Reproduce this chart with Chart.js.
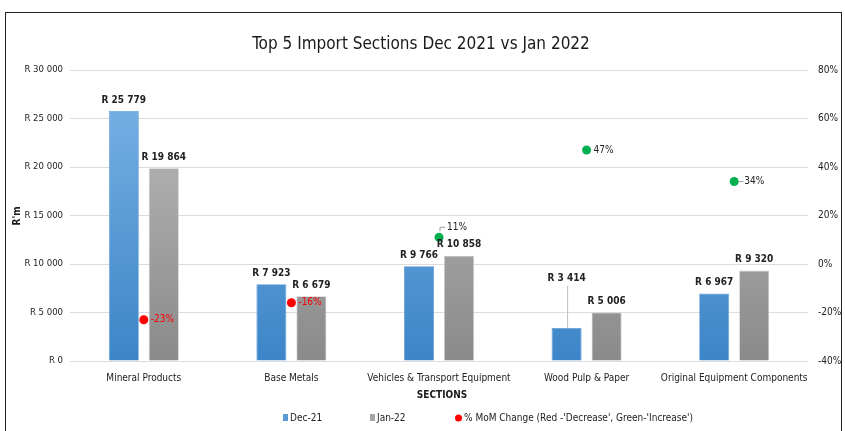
<!DOCTYPE html>
<html>
<head>
<meta charset="utf-8">
<script src="https://cdn.jsdelivr.net/npm/chart.js@4.4.1/dist/chart.umd.min.js"></script>
<style>
html,body{margin:0;padding:0;background:#fff;overflow:hidden;}
#wrap{position:absolute;left:0;top:0;width:845px;height:431px;}
#frame{position:absolute;left:5px;top:12px;width:837px;height:440px;border:1.5px solid #222;box-sizing:border-box;pointer-events:none;}
</style>
</head>
<body>
<div id="wrap"><canvas id="c" width="845" height="431"></canvas></div>
<div id="frame"></div>
<script>
const categories = ["Mineral Products","Base Metals","Vehicles & Transport Equipment","Wood Pulp & Paper","Original Equipment Components"];
const dec21 = [25779, 7923, 9766, 3414, 6967];
const jan22 = [19864, 6679, 10858, 5006, 9320];
const momChange = [-23, -16, 11, 47, 34];
const leftTicks = [0,5000,10000,15000,20000,25000,30000];
const rightTicks = [-40,-20,0,20,40,60,80];

const FONT = "'Liberation Sans Narrow','DejaVu Sans Condensed','Liberation Sans',sans-serif";

function fmtR(v){ return 'R ' + String(v).replace(/\B(?=(\d{3})+(?!\d))/g,' '); }

function grad(ctx, top, bottom){
  const ch = ctx.chart; const a = ch.chartArea;
  if(!a) return bottom;
  const g = ch.ctx.createLinearGradient(0, a.top+40, 0, a.bottom);
  g.addColorStop(0, top); g.addColorStop(1, bottom);
  return g;
}

const decorPlugin = {
  id:'decor',
  afterDatasetsDraw(chart){
    const ctx = chart.ctx;
    ctx.save();
    ctx.font = "bold 10px " + FONT;
    ctx.fillStyle = '#222';
    ctx.textAlign = 'center';
    ctx.textBaseline = 'bottom';
    const barLift = {'0-3': 38};
    [0,1].forEach(di=>{
      const meta = chart.getDatasetMeta(di);
      const data = chart.data.datasets[di].data;
      meta.data.forEach((el,i)=>{
        const lift = barLift[di+'-'+i] || 0;
        const y = el.y - 6 - lift;
        if(lift){
          ctx.strokeStyle = '#bfbfbf'; ctx.lineWidth = 1;
          ctx.beginPath(); ctx.moveTo(el.x+1, y+2); ctx.lineTo(el.x+1, el.y); ctx.stroke();
        }
        ctx.fillText(fmtR(data[i]), el.x, y);
      });
    });
    const pm = chart.getDatasetMeta(2);
    ctx.textAlign = 'left';
    ctx.textBaseline = 'middle';
    ctx.font = "10px " + FONT;
    pm.data.forEach((el,i)=>{
      const v = momChange[i];
      ctx.fillStyle = v < 0 ? '#ff0000' : '#222';
      const txt = v + '%';
      if(i===2){
        ctx.strokeStyle = '#9a9a9a'; ctx.lineWidth=1;
        ctx.beginPath(); ctx.moveTo(el.x+1, el.y-6); ctx.lineTo(el.x+1, el.y-10); ctx.lineTo(el.x+6, el.y-10); ctx.stroke();
        ctx.fillText(txt, el.x+8, el.y-10);
      } else if(i===4){
        ctx.strokeStyle = '#9a9a9a'; ctx.lineWidth=1;
        ctx.beginPath(); ctx.moveTo(el.x+5, el.y); ctx.lineTo(el.x+9, el.y); ctx.stroke();
        ctx.fillText(txt, el.x+10, el.y);
      } else {
        ctx.fillText(txt, el.x+7, el.y);
      }
    });
    ctx.restore();
  },
  afterDraw(chart){
    const ctx = chart.ctx;
    ctx.save();
    ctx.fillStyle = '#1a1a1a';
    ctx.font = "17px " + FONT;
    ctx.textAlign='center'; ctx.textBaseline='middle';
    ctx.fillText('Top 5 Import Sections Dec 2021 vs Jan 2022', 421, 45);
    ctx.font = "bold 10px " + FONT;
    ctx.save(); ctx.translate(17, 216); ctx.rotate(-Math.PI/2);
    ctx.fillText("R'm", 0, 0); ctx.restore();
    ctx.font = "bold 10px " + FONT;
    ctx.fillText('SECTIONS', 442, 395);
    ctx.textAlign='left';
    ctx.font = "10px " + FONT;
    ctx.fillStyle = '#5b9bd5'; ctx.fillRect(283, 414, 5, 7);
    ctx.fillStyle = '#222'; ctx.fillText('Dec-21', 290, 418);
    ctx.fillStyle = '#a6a6a6'; ctx.fillRect(370, 414, 5, 7);
    ctx.fillStyle = '#222'; ctx.fillText('Jan-22', 377, 418);
    ctx.fillStyle = '#ff0000'; ctx.beginPath(); ctx.arc(458.5, 418, 3.5, 0, Math.PI*2); ctx.fill();
    ctx.fillStyle = '#222'; ctx.fillText("% MoM Change (Red -'Decrease', Green-'Increase')", 464, 418);
    ctx.restore();
  }
};

new Chart(document.getElementById('c'), {
  type:'bar',
  data:{
    labels: categories,
    datasets:[
      {label:'Dec-21', data: dec21, yAxisID:'y', order:2,
        backgroundColor: c=>grad(c,'#74aee2','#3c85c8'), borderColor:'#5f9bd6', borderWidth:0.8,
        categoryPercentage:0.542, barPercentage:0.75},
      {label:'Jan-22', data: jan22, yAxisID:'y', order:2,
        backgroundColor: c=>grad(c,'#b8b8b8','#8a8a8a'), borderColor:'#c8c8c8', borderWidth:0.8,
        categoryPercentage:0.542, barPercentage:0.75},
      {type:'line', label:'% MoM Change', data: momChange, yAxisID:'y1', order:0,
        showLine:false, pointRadius:4.5, pointHoverRadius:4.5, pointBorderWidth:0,
        pointBackgroundColor: momChange.map(v=> v<0 ? '#ff0000' : '#00b050')}
    ]
  },
  options:{
    responsive:false, animation:false,
    layout:{padding:{top:70,left:0,right:0,bottom:0}},
    plugins:{legend:{display:false}, title:{display:false}, tooltip:{enabled:false}},
    scales:{
      x:{
        grid:{display:false, drawTicks:false}, border:{display:false},
        ticks:{color:'#222', font:{family:FONT, size:10}, maxRotation:0, autoSkip:false, padding:11},
        afterFit(s){ s.height = 70; }
      },
      y:{
        position:'left', min:0, max:30000,
        afterBuildTicks(s){ s.ticks = leftTicks.map(v=>({value:v})); },
        ticks:{color:'#222', font:{family:FONT, size:9.5}, padding:7,
          callback:v=>fmtR(v)},
        grid:{color:'#dcdcdc', lineWidth:1, drawTicks:false}, border:{display:false},
        afterFit(s){ s.width = 70; }
      },
      y1:{
        position:'right', min:-40, max:80,
        afterBuildTicks(s){ s.ticks = rightTicks.map(v=>({value:v})); },
        ticks:{color:'#222', font:{family:FONT, size:10}, padding:10, callback:v=>v+'%'},
        grid:{display:false, drawTicks:false}, border:{display:false},
        afterFit(s){ s.width = 37; }
      }
    }
  },
  plugins:[decorPlugin]
});
</script>
</body>
</html>
